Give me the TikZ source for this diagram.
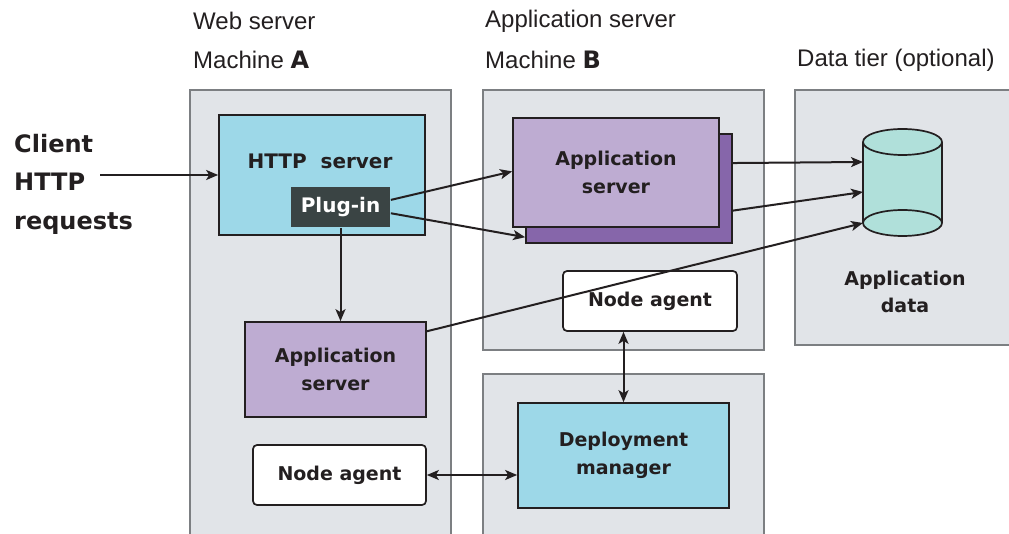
\documentclass[tikz,border=0pt]{standalone}
\usepackage{fontspec}
\setmainfont{Liberation Sans}
\newfontfamily\heavyfont{DejaVu Sans}
\usetikzlibrary{arrows.meta,calc}

\definecolor{ink}{HTML}{231F20}
\definecolor{panelfill}{HTML}{E1E4E8}
\definecolor{paneledge}{HTML}{7C7F82}
\definecolor{webblue}{HTML}{9DD8E8}
\definecolor{lilac}{HTML}{BEACD2}
\definecolor{violet}{HTML}{8666AA}
\definecolor{plugfill}{HTML}{3A4444}
\definecolor{dbfill}{HTML}{B0E0DA}

\newcommand{\hv}{\heavyfont\bfseries}

\tikzset{
  panel/.style={fill=panelfill, draw=paneledge, line width=1.2pt},
  box/.style={draw=ink, line width=1.7pt, inner sep=0pt},
  bluebox/.style={box, fill=webblue},
  appbox/.style={box, fill=lilac},
  agentbox/.style={box, fill=white, rounded corners=4pt},
  boxtext/.style={text=ink, align=center, font=\hv\fontsize{19}{28}\selectfont},
  header/.style={text=ink, anchor=west, inner sep=0pt, font=\fontsize{24}{28}\selectfont},
  conn/.style={draw=ink, line width=2pt},
  arr/.style={conn, -{Stealth[length=12pt,width=10pt,inset=3pt]}},
  darr/.style={conn, {Stealth[length=12pt,width=10pt,inset=3pt]}-{Stealth[length=12pt,width=10pt,inset=3pt]}}
}

\begin{document}
\begin{tikzpicture}[x=1pt,y=-1pt]
\useasboundingbox (0,0) rectangle (1009,534);
\clip (0,0) rectangle (1009,534);

% column headings
\node[header] (hA1) at (193,21) {Web server};
\node[header] (hA2) at (193,60) {Machine {\hv A}};
\node[header] (hB1) at (485,21) {Application server};
\node[header] (hB2) at (485,60) {Machine {\hv B}};
\node[header] (hC)  at (797,60) {Data tier (optional)};

% machine panels
\draw[panel] (190,90) rectangle (451,545);
\draw[panel] (483,90) rectangle (764,350);
\draw[panel] (483,374) rectangle (764,545);
\draw[panel] (795,90) rectangle (1020,345);

% client
\node[text=ink, align=left, anchor=west, inner sep=0pt,
      font=\hv\fontsize{24}{38.5}\selectfont] (client) at (14,184) {Client\\HTTP\\requests};
\coordinate (clientout) at (100,175);

% machine A
\node[bluebox, minimum width=206, minimum height=120] (http) at (322,175) {};
\node[boxtext, font=\hv\fontsize{20}{28}\selectfont] (httptext) at (320,161) {HTTP\ \ server};
\node[box, draw=none, fill=plugfill, minimum width=99, minimum height=40,
      text=white, font=\hv\fontsize{20}{24}\selectfont] (plug) at (340.5,207) {Plug-in};
\node[appbox, boxtext, minimum width=181, minimum height=95] (appA) at (335.5,369.5) {Application\\server};
\node[agentbox, boxtext, minimum width=173, minimum height=60] (agentA) at (339.5,475) {Node agent};

% machine B
\node[box, fill=violet, minimum width=206, minimum height=109] (appBback) at (629,188.5) {};
\node[appbox, boxtext, minimum width=206, minimum height=109] (appB) at (616,172.5) {Application\\server};
\node[agentbox, boxtext, minimum width=174, minimum height=60] (agentB) at (650,301) {Node agent};
\node[bluebox, boxtext, minimum width=211, minimum height=105] (dmgr) at (623.5,455.5) {Deployment\\manager};

% data tier: database cylinder
\fill[dbfill] (863,142) rectangle (942,223);
\filldraw[fill=dbfill, draw=ink, line width=1.7pt] (902.5,223) ellipse [x radius=39.5, y radius=13];
\draw[ink, line width=1.7pt] (863,142) -- (863,223) (942,142) -- (942,223);
\filldraw[fill=dbfill, draw=ink, line width=1.7pt] (902.5,142) ellipse [x radius=39.5, y radius=13];
\node[inner sep=0pt, minimum width=79, minimum height=107] (db) at (902.5,182.5) {};
\coordinate (dbin1) at (863,162);
\coordinate (dbin2) at (863,192);
\coordinate (dbin3) at (863,223);
\node[boxtext, font=\hv\fontsize{19}{27}\selectfont] (dbtext) at (905,292) {Application\\data};

% connectors
\draw[arr] (clientout) -- (clientout -| http.west);
\draw[arr] ($(plug.north east)!0.33!(plug.south east)$) -- ($(appB.north west)!0.49!(appB.south west)$);
\draw[arr] ($(plug.north east)!0.65!(plug.south east)$) -- ($(appBback.north west)!0.94!(appBback.south west)$);
\draw[arr] (plug.south) -- (plug.south |- appA.north);
\draw[arr] ($(appBback.north east)!0.27!(appBback.south east)$) -- (dbin1);
\draw[arr] ($(appBback.north east)!0.70!(appBback.south east)$) -- (dbin2);
\draw[arr] ($(appA.north east)!0.105!(appA.south east)$) -- (dbin3);
\draw[darr] (agentA.east) -- (agentA.east -| dmgr.west);
\draw[darr] (dmgr.north |- agentB.south) -- (dmgr.north);
\end{tikzpicture}
\end{document}
